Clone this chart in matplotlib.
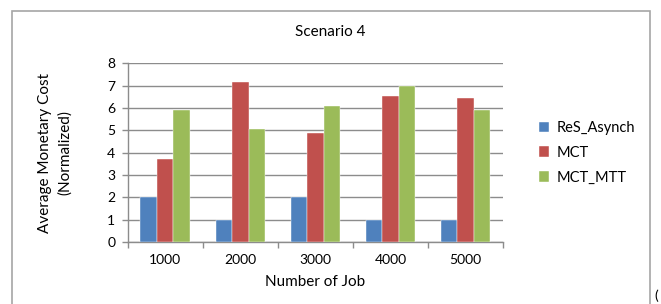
import matplotlib.pyplot as plt
import matplotlib.patches as patches
import numpy as np

# data
jobs = ['1000', '2000', '3000', '4000', '5000']
res_asynch = [2, 1, 2, 1, 1]
mct = [3.71, 7.18, 4.86, 6.53, 6.45]
mct_mtt = [5.90, 5.07, 6.11, 7.0, 5.90]
series_names = ['ReS_Asynch', 'MCT', 'MCT_MTT']
colors = ['#4F81BD', '#C0504D', '#9BBB59']

plt.rcParams['font.family'] = ['Lato', 'DejaVu Sans']

W, H = 661, 304
fig = plt.figure(figsize=(W / 100, H / 100), dpi=100)

# outer chart frame (runs off the bottom edge)
frame = patches.Rectangle((12 / W, -0.05), (650 - 12) / W, 1.05 - 10.5 / H,
                          transform=fig.transFigure, fill=False,
                          edgecolor='#A6A6A6', linewidth=1.2)
fig.add_artist(frame)

# axes placement in pixels: left 127.7, right 503, top 63.3, bottom 242
ax = fig.add_axes([127.7 / W, 1 - 242 / H, (503 - 127.7) / W, (242 - 63.3) / H])

x = np.arange(len(jobs))
w = 0.22
for i, (vals, name) in enumerate(zip([res_asynch, mct, mct_mtt], series_names)):
    ax.bar(x + (i - 1) * w, vals, width=w, color=colors[i], label=name,
           edgecolor='white', linewidth=0.3, zorder=3)

ax.set_xlim(-0.5, len(jobs) - 0.5)
ax.set_ylim(0, 8)
ax.set_yticks(range(0, 9))
ax.yaxis.grid(True, color='#8C8C8C', linewidth=1.0, zorder=0)
ax.set_axisbelow(True)

ax.set_xticks(x)
ax.set_xticklabels(jobs, fontsize=10)
ax.set_xticks(np.arange(-0.5, len(jobs)), minor=True)
ax.tick_params(axis='x', which='major', length=0, pad=9)
ax.tick_params(axis='x', which='minor', length=4, color='#8C8C8C', width=1)
ax.tick_params(axis='y', length=4, color='#8C8C8C', width=1, labelsize=10, pad=5)

for s in ['top', 'right']:
    ax.spines[s].set_visible(False)
for s in ['left', 'bottom']:
    ax.spines[s].set_color('#8C8C8C')
    ax.spines[s].set_linewidth(1.0)

ax.set_xlabel('Number of Job', fontsize=11, labelpad=6)
ax.set_ylabel('Average Monetary Cost\n(Normalized)', fontsize=11, labelpad=25,
              linespacing=1.5)
fig.text(330 / W, 1 - 32 / H, 'Scenario 4', ha='center', va='center', fontsize=11)

ax.legend(loc='center left', bbox_to_anchor=(1.06, 0.5), frameon=False,
          fontsize=10.5, handlelength=0.7, handleheight=0.7, labelspacing=0.75,
          handletextpad=0.5)

fig.text(654 / W, 1 - 296 / H, '(', fontsize=10, ha='left', va='center')

fig.savefig('out.png', dpi=100)
